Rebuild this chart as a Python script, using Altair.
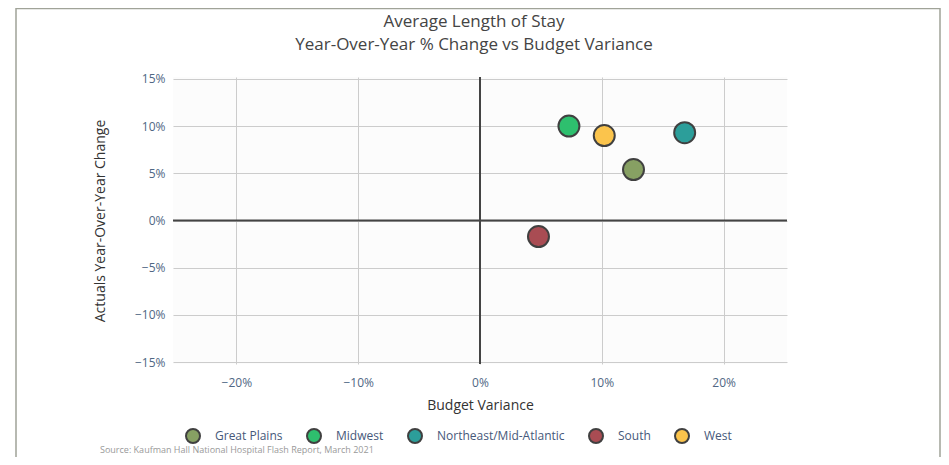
import altair as alt
import pandas as pd

# ---- data ----
regions = ["Great Plains", "Midwest", "Northeast/Mid-Atlantic", "South", "West"]
budget_variance = [0.126, 0.073, 0.168, 0.048, 0.102]
yoy_change = [0.054, 0.100, 0.093, -0.017, 0.090]
colors = ["#87a063", "#2ebf6e", "#2c9e9a", "#a94c53", "#fbc44c"]

x_ticks = [-0.2, -0.1, 0.0, 0.1, 0.2]
y_ticks = [-0.15, -0.10, -0.05, 0.0, 0.05, 0.10, 0.15]
x_domain = [-0.252, 0.252]
y_domain = [-0.152, 0.152]
zero = [0.0]

title_lines = ["Average Length of Stay", "Year-Over-Year % Change vs Budget Variance"]
source_note = "Source: Kaufman Hall National Hospital Flash Report, March 2021"

df = pd.DataFrame({"Region": regions, "Budget": budget_variance, "YoY": yoy_change})
zero_df = pd.DataFrame({"v": zero})
note_df = pd.DataFrame({"t": [source_note]})

FONT = "Open Sans"
W, H = 614, 287

x_scale = alt.Scale(domain=x_domain, nice=False, zero=False)
y_scale = alt.Scale(domain=y_domain, nice=False, zero=False)

points = alt.Chart(df).mark_point(
    filled=True, size=441, opacity=1, stroke="#404040", strokeWidth=2
).encode(
    x=alt.X("Budget:Q", scale=x_scale,
            axis=alt.Axis(values=x_ticks, format=".0%", title="Budget Variance",
                          grid=True, ticks=False, domain=False,
                          labelPadding=13, titlePadding=10)),
    y=alt.Y("YoY:Q", scale=y_scale,
            axis=alt.Axis(values=y_ticks, format=".0%", title="Actuals Year-Over-Year Change",
                          grid=True, ticks=False, domain=False,
                          labelPadding=8, titlePadding=27)),
    color=alt.Color("Region:N",
                    scale=alt.Scale(domain=regions, range=colors),
                    legend=alt.Legend(title=None, orient="none", direction="horizontal",
                                      legendX=12, legendY=351)),
)

vzero = alt.Chart(zero_df).mark_rule(color="#444444", strokeWidth=2).encode(
    x=alt.X("v:Q", scale=x_scale)
)
hzero = alt.Chart(zero_df).mark_rule(color="#444444", strokeWidth=2).encode(
    y=alt.Y("v:Q", scale=y_scale)
)

note = alt.Chart(note_df).mark_text(
    align="left", baseline="middle", fontSize=9, color="#999999", font=FONT
).encode(text="t:N", x=alt.value(-73), y=alt.value(373))

frame = alt.Chart(note_df).mark_rect(
    filled=False, stroke="#a0a398", strokeWidth=1.5
).encode(x=alt.value(-157), x2=alt.value(767), y=alt.value(-68.5), y2=alt.value(420))

chart = alt.layer(frame, vzero, hzero, points, note).properties(
    width=W, height=H,
    title=alt.TitleParams(text=title_lines, anchor="middle", fontSize=17, font=FONT,
                          fontWeight="normal", color="#444444", lineHeight=23,
                          offset=-46, dx=-6),
    autosize=alt.AutoSizeParams(type="none"),
    padding={"left": 165, "top": 69, "right": 154, "bottom": 93},
    background="white",
).configure_view(
    fill="#fcfcfc", stroke=None
).configure_axis(
    gridColor="#cccccc", gridWidth=1, labelColor="#506784", labelFont=FONT,
    labelFontSize=12, titleFont=FONT, titleFontSize=14, titleFontWeight="normal",
    titleColor="#333333"
).configure_legend(
    labelFont=FONT, labelFontSize=12, labelColor="#46587a", symbolType="circle",
    symbolSize=196, symbolStrokeColor="#404040", symbolStrokeWidth=2,
    symbolOpacity=1, labelOffset=14, columnPadding=20, padding=0
)

chart.save("out.html", embed_options={"renderer": "svg", "actions": False})
